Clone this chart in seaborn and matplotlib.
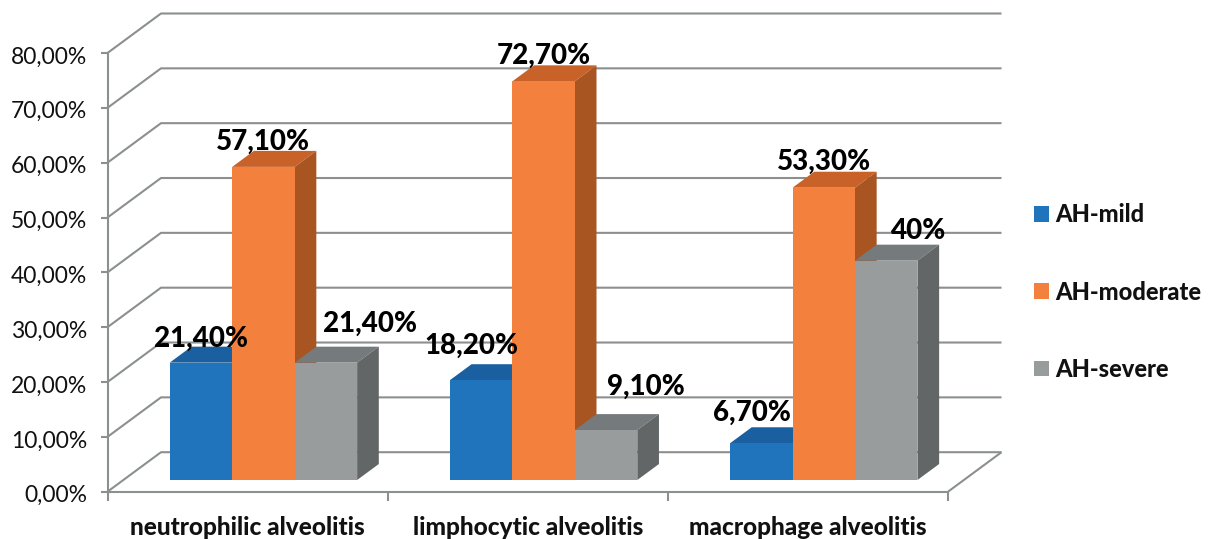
import matplotlib
matplotlib.use("Agg")
import matplotlib.pyplot as plt
from matplotlib.patches import Patch, Polygon
from matplotlib.transforms import ScaledTranslation
import pandas as pd
import seaborn as sns

# Data
categories = ["neutrophilic alveolitis", "limphocytic alveolitis", "macrophage alveolitis"]
grades = ["AH-mild", "AH-moderate", "AH-severe"]
mild = [21.4, 18.2, 6.7]
moderate = [57.1, 72.7, 53.3]
severe = [21.4, 9.1, 40.0]
mild_labels = ["21,40%", "18,20%", "6,70%"]
moderate_labels = ["57,10%", "72,70%", "53,30%"]
severe_labels = ["21,40%", "9,10%", "40%"]
y_ticks = [0, 10, 20, 30, 40, 50, 60, 70, 80]

# Styling
front_colors = ["#1F74BC", "#F4803E", "#999C9D"]
top_colors = ["#1A5FA0", "#C96228", "#757A7C"]
side_colors = ["#154F86", "#A85522", "#626666"]
grid_color = "#8B908E"
PX = 0.72  # points per pixel at 100 dpi
W, H = 1209, 539

sns.set_theme(style="white")
plt.rcParams["font.family"] = ["Lato", "DejaVu Sans"]

fig = plt.figure(figsize=(W / 100, H / 100), dpi=100)
left, right, bottom, top = 107.5, 948.0, 491.7, 53.0
ax = fig.add_axes([left / W, 1 - bottom / H, (right - left) / W, (bottom - top) / H])

# Oblique projection: one unit of depth moves a point this far in data units
x_unit = (right - left) / 3
y_unit = (bottom - top) / 80
depth_x = 53.5 / x_unit
depth_y = 39.5 / y_unit
bar_front, bar_back = 0.296, 0.701


def project(x, y, d):
    return x + d * depth_x, y + d * depth_y


frame = pd.DataFrame({
    "alveolitis": categories * 3,
    "grade": [g for g in grades for _ in categories],
    "share": mild + moderate + severe,
})
sns.barplot(data=frame, x="alveolitis", y="share", hue="grade", hue_order=grades,
            order=categories, palette=front_colors, saturation=1, width=0.669,
            gap=0, dodge=True, legend=False, ax=ax, linewidth=0, zorder=3)

ax.set_xlim(-0.5, 2.5)
ax.set_ylim(0, 80)

# Walls and floor behind the bars
line_style = dict(color=grid_color, lw=1.5, clip_on=False, zorder=1, solid_capstyle="butt")
for v in y_ticks:
    xb, yb = project(-0.5, v, 1)
    xe, ye = project(2.5, v, 1)
    ax.plot([-0.5, xb, xe], [v, yb, ye], **line_style)
xb, yb = project(2.5, 0, 1)
ax.plot([2.5, xb], [0, yb], **line_style)

# Push each bar into the depth of the scene and add its top and side faces
for i, container in enumerate(ax.containers):
    for patch in container:
        x0, w, h = patch.get_x(), patch.get_width(), patch.get_height()
        fx, fy = project(x0, 0, bar_front)
        patch.set_xy((fx, fy))
        patch.set_zorder(3.5 + i)
        patch.set_clip_on(False)
        x1 = fx + w
        y1 = fy + h
        dx = (bar_back - bar_front) * depth_x
        dy = (bar_back - bar_front) * depth_y
        ax.add_patch(Polygon([(fx, y1), (x1, y1), (x1 + dx, y1 + dy), (fx + dx, y1 + dy)],
                             facecolor=top_colors[i], edgecolor="none", zorder=3 + i, clip_on=False))
        ax.add_patch(Polygon([(x1, fy), (x1 + dx, fy + dy), (x1 + dx, y1 + dy), (x1, y1)],
                             facecolor=side_colors[i], edgecolor="none", zorder=3 + i, clip_on=False))

# Value labels, placed by hand around each bar (pixel offsets from the top of the front face)
label_sets = [mild_labels, moderate_labels, severe_labels]
label_offsets = [
    [(0, 24), (-10, 34), (-9, 30)],
    [(0, 25), (0, 26), (0, 26)],
    [(44, 39), (40, 43), (32, 30)],
]
for container, texts, offsets in zip(ax.containers, label_sets, label_offsets):
    for patch, text, (ox, oy) in zip(container, texts, offsets):
        ax.annotate(text, xy=(patch.get_x() + patch.get_width() / 2, patch.get_y() + patch.get_height()),
                    xytext=(ox * PX, oy * PX), textcoords="offset points",
                    ha="center", va="center", fontsize=20, fontweight=900,
                    color="black", zorder=10, annotation_clip=False)

# Axes
for name, spine in ax.spines.items():
    spine.set_visible(name in ("left", "bottom"))
    spine.set_color(grid_color)
    spine.set_linewidth(1.5)
    spine.set_zorder(2)
ax.set_xlabel("")
ax.set_ylabel("")
ax.set_yticks(y_ticks)
ax.set_yticklabels([f"{v},00%" for v in y_ticks])
ax.tick_params(axis="y", left=True, length=7.5 * PX, width=1.5, color=grid_color,
               pad=13 * PX, labelsize=16.5, labelcolor="#111111")
label_shift = ScaledTranslation(0, -2 / 100, fig.dpi_scale_trans)
for label in ax.get_yticklabels():
    label.set_transform(label.get_transform() + label_shift)
ax.set_xticks([0, 1, 2])
ax.set_xticklabels(categories, fontweight=900)
ax.set_xticks([-0.5, 0.5, 1.5, 2.5], minor=True)
ax.tick_params(axis="x", which="major", bottom=False, length=0, pad=24 * PX,
               labelsize=17.6, labelcolor="#111111")
ax.tick_params(axis="x", which="minor", bottom=True, length=9 * PX, width=1.5, color=grid_color)

# Legend
handles = [Patch(facecolor=c, edgecolor="none", label=g) for c, g in zip(front_colors, grades)]
legend = fig.legend(handles=handles, loc="center left", bbox_to_anchor=(1034 / W, 1 - 292 / H),
                    frameon=False, fontsize=17, handlelength=0.63, handleheight=0.63,
                    handletextpad=0.28, labelspacing=2.3, borderpad=0, borderaxespad=0)
for t in legend.get_texts():
    t.set_fontweight(900)
    t.set_color("#111111")

fig.savefig("out.png", dpi=100)
